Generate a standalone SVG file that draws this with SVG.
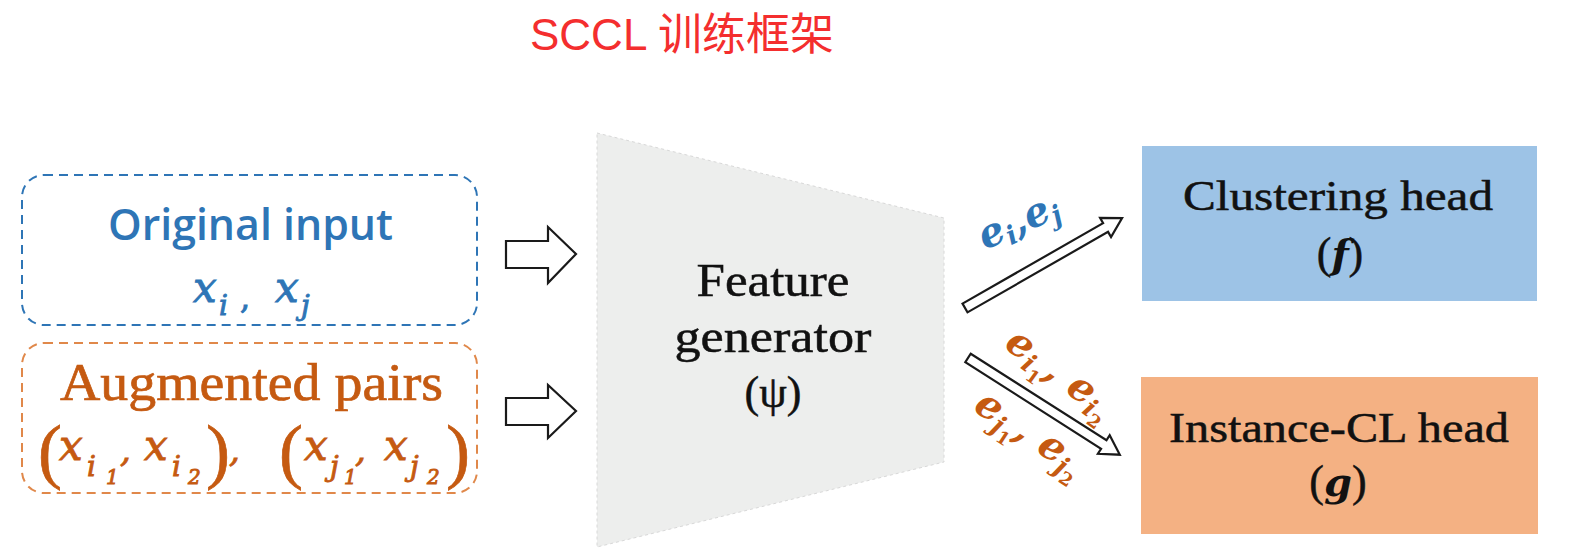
<svg xmlns="http://www.w3.org/2000/svg" width="1569" height="554" viewBox="0 0 1569 554">
<style>
.title{font-family:"Liberation Sans","Noto Sans CJK SC",sans-serif;font-size:44px;fill:#F42E2E}
.blue{fill:#2E75B6;stroke:#2E75B6}
.orange{fill:#C55A11;stroke:#C55A11}
.sans{font-family:"Open Sans","Liberation Sans",sans-serif;font-weight:600;stroke-width:0}
.serif{font-family:"Liberation Serif",serif;stroke-width:0.7}
.math{font-family:"DejaVu Serif",serif;font-style:italic;stroke-width:0.9}
.bmath{font-family:"DejaVu Serif",serif;font-style:italic;font-weight:bold;stroke-width:0}
.dark{fill:#111;stroke:#111;stroke-width:0.5}
.hollow{fill:#fff;stroke:#1a1a1a;stroke-width:2.2;stroke-linejoin:miter}
</style>
<rect width="1569" height="554" fill="#fff"/>
<text class="title" x="530" y="50">SCCL 训练框架</text>

<g id="feature-generator">
<polygon points="597,133 944,218 944,462 597,547" fill="#EDEEED" stroke="#d8d8d8" stroke-width="1" stroke-dasharray="3,3"/>
<text class="serif dark" x="773" y="296" font-size="46" text-anchor="middle" textLength="153" lengthAdjust="spacingAndGlyphs">Feature</text>
<text class="serif dark" x="773" y="352" font-size="46" text-anchor="middle" textLength="197" lengthAdjust="spacingAndGlyphs">generator</text>
<text class="serif dark" x="773" y="407" font-size="44" text-anchor="middle">(ψ)</text>
</g>

<g id="original-input">
<rect x="22" y="175" width="455" height="150" rx="22" fill="none" stroke="#2E75B6" stroke-width="2" stroke-dasharray="9,6"/>
<text class="sans blue" x="108" y="240" font-size="44" textLength="285" lengthAdjust="spacingAndGlyphs">Original input</text>
<text class="math blue" y="302" font-size="42"><tspan x="193">x</tspan><tspan x="219" y="315" font-size="28">i</tspan><tspan x="240" y="309" font-style="normal" font-size="32">,</tspan><tspan x="275" y="302">x</tspan><tspan x="301" y="315" font-size="28">j</tspan></text>
</g>

<g id="augmented-pairs">
<rect x="22" y="343" width="455" height="150" rx="22" fill="none" stroke="#E0884A" stroke-width="2" stroke-dasharray="9,6"/>
<text class="serif orange" x="60" y="400" font-size="52" textLength="383" lengthAdjust="spacingAndGlyphs">Augmented pairs</text>
<g class="orange">
<text class="serif" y="475" font-size="72"><tspan x="38">(</tspan><tspan x="206">)</tspan><tspan x="279">(</tspan><tspan x="446">)</tspan></text>
<text class="math" y="460" font-size="42"><tspan x="59">x</tspan><tspan x="144">x</tspan><tspan x="304">x</tspan><tspan x="384">x</tspan></text>
<text class="math" y="476" font-size="28"><tspan x="87">i</tspan><tspan x="172">i</tspan><tspan x="330">j</tspan><tspan x="410">j</tspan></text>
<text class="math" y="484" font-size="20" font-style="normal"><tspan x="106">1</tspan><tspan x="188">2</tspan><tspan x="344">1</tspan><tspan x="427">2</tspan></text>
<text class="math" y="462" font-size="34" font-style="normal"><tspan x="120">,</tspan><tspan x="229">,</tspan><tspan x="355">,</tspan></text>
</g>
</g>

<g id="clustering-head">
<rect x="1142" y="146" width="395" height="155" fill="#9DC3E6"/>
<text class="serif dark" x="1338" y="210" font-size="42" text-anchor="middle" textLength="310" lengthAdjust="spacingAndGlyphs">Clustering head</text>
<text class="serif dark" x="1340" y="268" font-size="44" text-anchor="middle">(<tspan class="bmath" font-size="40">f</tspan>)</text>
</g>

<g id="instance-cl-head">
<rect x="1141" y="377" width="397" height="157" fill="#F4B183"/>
<text class="serif dark" x="1339" y="442" font-size="42" text-anchor="middle" textLength="340" lengthAdjust="spacingAndGlyphs">Instance-CL head</text>
<text class="serif dark" x="1338" y="496" font-size="44" text-anchor="middle">(<tspan class="bmath" font-size="40">g</tspan>)</text>
</g>

<g id="connectors">
<polygon class="hollow" points="506,241 548,241 548,227 576,254 548,283 548,268 506,268"/>
<polygon class="hollow" points="506,398 548,398 548,385 576,411 548,438 548,425 506,425"/>
<polygon class="hollow" transform="translate(965,308) rotate(-29.8)" points="0,-5 162,-5 162,-11 181,0 162,11 162,5 0,5"/>
<polygon class="hollow" transform="translate(968,358) rotate(32.5)" points="0,-5 161,-5 161,-11 180,0 161,11 161,5 0,5"/>
</g>

<g id="edge-labels">
<text class="bmath blue" transform="translate(985,250) rotate(-24)" font-size="40">e<tspan font-size="26" dy="6">i</tspan><tspan dy="-6">,</tspan>e<tspan font-size="26" dy="6">j</tspan></text>
<text class="bmath orange" transform="translate(1003,347) rotate(36)" font-size="40">e<tspan font-size="26" dy="7">i</tspan><tspan font-size="18" dy="6" font-style="normal">1</tspan><tspan dy="-13">, e</tspan><tspan font-size="26" dy="7">i</tspan><tspan font-size="18" dy="6" font-style="normal">2</tspan></text>
<text class="bmath orange" transform="translate(972,410) rotate(33)" font-size="40">e<tspan font-size="26" dy="7">j</tspan><tspan font-size="18" dy="6" font-style="normal">1</tspan><tspan dy="-13">, e</tspan><tspan font-size="26" dy="7">j</tspan><tspan font-size="18" dy="6" font-style="normal">2</tspan></text>
</g>
</svg>
